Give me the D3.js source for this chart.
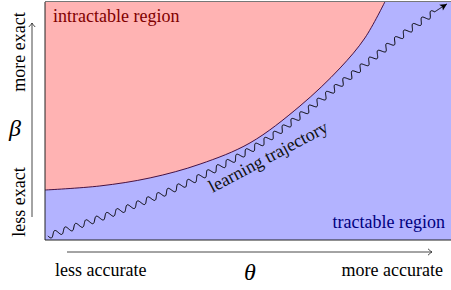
<!DOCTYPE html>
<html>
<head>
<meta charset="utf-8">
<script src="https://cdn.jsdelivr.net/npm/d3@7"></script>
<style>
  body { margin: 0; background: #fff; }
  text { font-family: "Liberation Serif", "DejaVu Serif", serif; }
</style>
</head>
<body>
<figure id="chart" style="margin:0"></figure>
<script>
// boundary between intractable / tractable regions (theta, beta in 0..1)
const boundaryTheta = [0, 0.135, 0.259, 0.382, 0.505, 0.628, 0.727, 0.788, 0.837];
const boundaryBeta  = [0.21, 0.227, 0.261, 0.319, 0.408, 0.563, 0.723, 0.849, 1.0];

// learning trajectory centre line
const trajTheta = [0.007, 0.135, 0.259, 0.382, 0.505, 0.567, 0.628, 0.709, 0.793, 0.874, 0.956, 0.990];
const trajBeta  = [0.017, 0.092, 0.172, 0.265, 0.378, 0.445, 0.521, 0.630, 0.744, 0.853, 0.954, 0.992];

const regionLabels = ["intractable region", "tractable region"];
const trajLabel = "learning trajectory";
const xLabels = ["less accurate", "θ", "more accurate"];
const yLabels = ["less exact", "β", "more exact"];

const width = 451, height = 290;
const plot = {left: 45, right: 451, top: 2, bottom: 240};

const svg = d3.select("#chart").append("svg")
  .attr("width", width)
  .attr("height", height);

const x = d3.scaleLinear().domain([0, 1]).range([plot.left, plot.right]);
const y = d3.scaleLinear().domain([0, 1]).range([plot.bottom, plot.top]);

const boundary = boundaryTheta.map((t, i) => ({t: t, b: boundaryBeta[i]}));
const traj = trajTheta.map((t, i) => ({t: t, b: trajBeta[i]}));

svg.append("clipPath").attr("id", "plotclip")
  .append("rect")
  .attr("x", plot.left).attr("y", plot.top)
  .attr("width", plot.right - plot.left).attr("height", plot.bottom - plot.top);

const g = svg.append("g").attr("clip-path", "url(#plotclip)");

// tractable (whole area) background
g.append("rect")
  .attr("x", x(0)).attr("y", y(1))
  .attr("width", x(1) - x(0)).attr("height", y(0) - y(1))
  .attr("fill", "#b3b3ff");

const smooth = d3.curveCatmullRom.alpha(0.5);

// intractable region above the boundary
g.append("path")
  .datum(boundary)
  .attr("d", d3.area().x(d => x(d.t)).y0(y(1)).y1(d => y(d.b)).curve(smooth))
  .attr("fill", "#ffb3b3");

g.append("path")
  .datum(boundary)
  .attr("d", d3.line().x(d => x(d.t)).y(d => y(d.b)).curve(smooth))
  .attr("fill", "none")
  .attr("stroke", "#330033")
  .attr("stroke-width", 0.9);

// snake decoration along the trajectory
const guide = g.append("path")
  .datum(traj)
  .attr("d", d3.line().x(d => x(d.t)).y(d => y(d.b)).curve(smooth))
  .attr("fill", "none")
  .attr("stroke", "none");

const node = guide.node();
const L = node.getTotalLength();
const wave = 11, amp = 3, tail = 6;
const snakePts = [];
const snakeLen = Math.floor((L - tail) / wave) * wave;
for (let s = 0; s <= L; s += 0.5) {
  const p = node.getPointAtLength(s);
  const q = node.getPointAtLength(Math.min(L, s + 0.5));
  const r = node.getPointAtLength(Math.max(0, s - 0.5));
  let dx = q.x - r.x, dy = q.y - r.y;
  const n = Math.hypot(dx, dy) || 1;
  dx /= n; dy /= n;
  const off = s < snakeLen ? amp * Math.sin(2 * Math.PI * s / wave) : 0;
  snakePts.push([p.x - dy * off, p.y + dx * off]);
}
g.append("path")
  .attr("d", d3.line()(snakePts))
  .attr("fill", "none")
  .attr("stroke", "#000")
  .attr("stroke-width", 1);

// arrow tip at the end of the trajectory
const pEnd = node.getPointAtLength(L);
const pPrev = node.getPointAtLength(L - 3);
const ang = Math.atan2(pEnd.y - pPrev.y, pEnd.x - pPrev.x) * 180 / Math.PI;
svg.append("path")
  .attr("d", "M0,0 L-7,-3.5 L-5.5,0 L-7,3.5 Z")
  .attr("transform", `translate(${pEnd.x},${pEnd.y}) rotate(${ang})`)
  .attr("fill", "#000");

// frame: left + bottom dark, top grey
svg.append("path")
  .attr("d", `M${plot.left},${plot.top} V${plot.bottom} H${plot.right + 1}`)
  .attr("fill", "none").attr("stroke", "#222").attr("stroke-width", 1);
svg.append("line")
  .attr("x1", plot.left).attr("y1", 1.5).attr("x2", plot.right).attr("y2", 1.5)
  .attr("stroke", "#777").attr("stroke-width", 1);

// region labels
svg.append("text")
  .attr("x", 53).attr("y", 22)
  .attr("font-size", 18)
  .attr("fill", "#800000")
  .text(regionLabels[0]);
svg.append("text")
  .attr("x", 445).attr("y", 228)
  .attr("text-anchor", "end")
  .attr("font-size", 18)
  .attr("fill", "#000080")
  .text(regionLabels[1]);

// trajectory label
svg.append("text")
  .attr("transform", "translate(271,162) rotate(-28)")
  .attr("text-anchor", "middle")
  .attr("font-size", 18)
  .attr("fill", "#111")
  .text(trajLabel);

// axis arrows
const chevron = "M-4,-3.2 Q-1.5,-0.8 0,0 Q-1.5,0.8 -4,3.2";
svg.append("line")
  .attr("x1", 67).attr("y1", 252).attr("x2", 432).attr("y2", 252)
  .attr("stroke", "#333").attr("stroke-width", 0.9);
svg.append("path")
  .attr("d", chevron)
  .attr("transform", "translate(432,252)")
  .attr("fill", "none").attr("stroke", "#333").attr("stroke-width", 0.9);

svg.append("line")
  .attr("x1", 32).attr("y1", 217).attr("x2", 32).attr("y2", 23)
  .attr("stroke", "#333").attr("stroke-width", 0.9);
svg.append("path")
  .attr("d", chevron)
  .attr("transform", "translate(32,23) rotate(-90)")
  .attr("fill", "none").attr("stroke", "#333").attr("stroke-width", 0.9);

// x labels
svg.append("text").attr("x", 55).attr("y", 276).attr("font-size", 18).text(xLabels[0]);
svg.append("text").attr("x", 250).attr("y", 280).attr("text-anchor", "middle")
  .attr("font-size", 24).attr("font-style", "italic").text(xLabels[1]);
svg.append("text").attr("x", 443).attr("y", 276).attr("text-anchor", "end").attr("font-size", 18).text(xLabels[2]);

// y labels
svg.append("text")
  .attr("transform", "translate(25,202) rotate(-90)")
  .attr("text-anchor", "middle").attr("font-size", 18).text(yLabels[0]);
svg.append("text").attr("x", 15).attr("y", 136).attr("text-anchor", "middle")
  .attr("font-size", 24).attr("font-style", "italic").text(yLabels[1]);
svg.append("text")
  .attr("transform", "translate(25,52) rotate(-90)")
  .attr("text-anchor", "middle").attr("font-size", 18).text(yLabels[2]);
</script>
</body>
</html>
